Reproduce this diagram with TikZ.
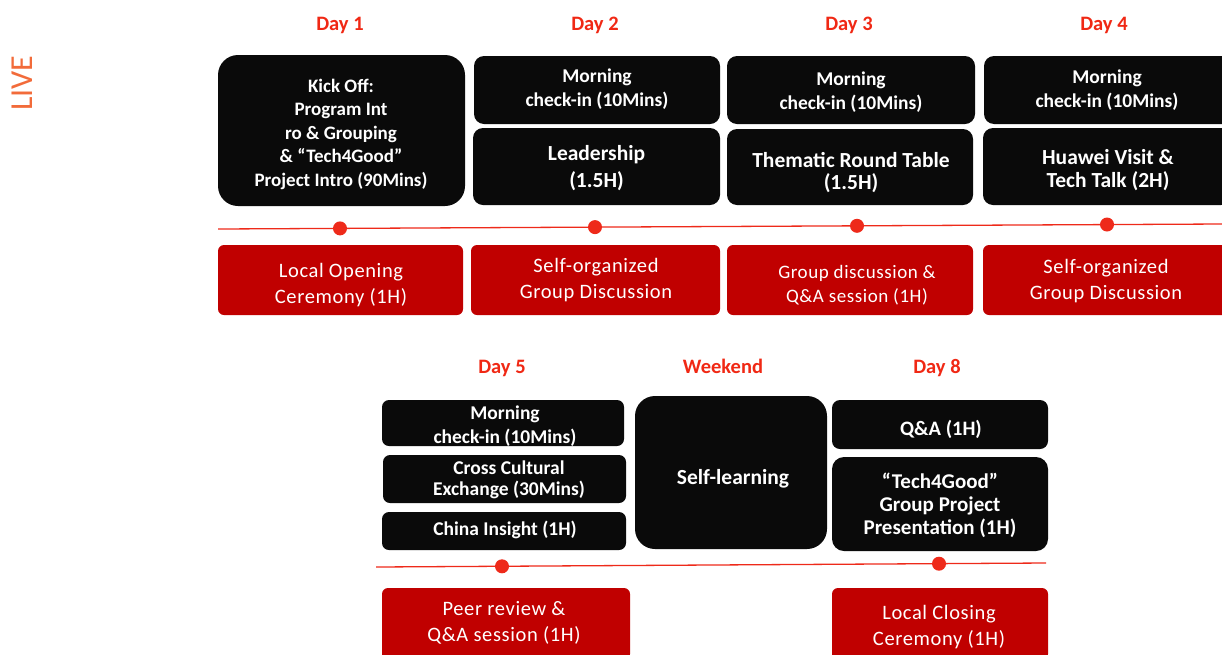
\documentclass[tikz,border=0pt]{standalone}
\usepackage{fontspec}
\setmainfont{Carlito}
\newfontfamily\spacedfont[LetterSpace=3]{Carlito}
\definecolor{boxblack}{HTML}{0A0A0A}
\definecolor{boxred}{HTML}{C00000}
\definecolor{dayred}{HTML}{F02814}
\definecolor{linered}{HTML}{EE2A1A}
\definecolor{liveorange}{HTML}{F26B3A}
\begin{document}
\begin{tikzpicture}[x=1pt,y=-1pt,
  blk/.style={fill=boxblack, rounded corners=10pt, inner sep=0pt},
  bigblk/.style={blk, rounded corners=20pt},
  redbox/.style={fill=boxred, rounded corners=6pt, inner sep=0pt},
  wtxt/.style={text=white, align=center, inner sep=0pt, font=\bfseries\fontsize{19.5}{24}\selectfont},
  rtxt/.style={text=white, align=center, inner sep=0pt, font=\spacedfont\fontsize{20.5}{26}\selectfont},
  daylbl/.style={text=dayred, anchor=base, inner sep=0pt, font=\bfseries\fontsize{20.5}{22}\selectfont},
  tline/.style={draw=linered, line width=1.3pt},
  tdot/.style={circle, fill=linered, minimum size=14pt, inner sep=0pt}]
\useasboundingbox (0,0) rectangle (1222,654);
\clip (0,0) rectangle (1222,654);

% LIVE
\node[text=liveorange, rotate=90, font=\fontsize{32}{32}\selectfont] (live) at (22,83) {LIVE};

% Day labels
\node[daylbl] (day1) at (340,30) {Day 1};
\node[daylbl] (day2) at (595,30) {Day 2};
\node[daylbl] (day3) at (849,30) {Day 3};
\node[daylbl] (day4) at (1104,30) {Day 4};
\node[daylbl] (day5) at (502,373) {Day 5};
\node[daylbl] (wkd) at (723,373) {Weekend};
\node[daylbl] (day8) at (937,373) {Day 8};

% Row 1 black boxes
\node[bigblk, minimum width=247pt, minimum height=151pt] (kick) at (341.5,130.5) {};
\node[blk, minimum width=246pt, minimum height=68pt] (d2m) at (597,90) {};
\node[blk, minimum width=247pt, minimum height=77pt] (d2l) at (596.5,166.5) {};
\node[blk, minimum width=248pt, minimum height=68pt] (d3m) at (851,90) {};
\node[blk, minimum width=246pt, minimum height=76pt] (d3t) at (850,167) {};
\node[blk, minimum width=248pt, minimum height=68pt] (d4m) at (1108,90) {};
\node[blk, minimum width=248pt, minimum height=77pt] (d4h) at (1107,166.5) {};

\node[wtxt, font=\bfseries\fontsize{19}{23.5}\selectfont] (kickT) at (341,134)
  {Kick Off:\\Program Int\\ro \& Grouping\\\& “Tech4Good”\\Project Intro (90Mins)};
\node[wtxt] (d2mT) at (597,89) {Morning\\check-in (10Mins)};
\node[wtxt, font=\bfseries\fontsize{21.5}{27}\selectfont] (d2lT) at (596.5,168.5) {Leadership\\(1.5H)};
\node[wtxt] (d3mT) at (851,92) {Morning\\check-in (10Mins)};
\node[wtxt, font=\bfseries\fontsize{21.5}{22}\selectfont] (d3tT) at (851,173) {Thematic Round Table\\(1.5H)};
\node[wtxt] (d4mT) at (1107,90.5) {Morning\\check-in (10Mins)};
\node[wtxt, font=\bfseries\fontsize{21.5}{23}\selectfont] (d4hT) at (1108,170.5) {Huawei Visit \&\\Tech Talk (2H)};

% Row 1 timeline
\coordinate (t1a) at (218,229);
\coordinate (t1b) at (1222,224);
\draw[tline] (t1a) -- (t1b);
\node[tdot] (dot1) at (340,228.4) {};
\node[tdot] (dot2) at (595,227.1) {};
\node[tdot] (dot3) at (857,225.8) {};
\node[tdot] (dot4) at (1107,224.5) {};

% Row 1 red boxes
\node[redbox, minimum width=245pt, minimum height=70pt] (r1) at (340.5,280) {};
\node[redbox, minimum width=249pt, minimum height=70pt] (r2) at (595.5,280) {};
\node[redbox, minimum width=246pt, minimum height=70pt] (r3) at (850,280) {};
\node[redbox, minimum width=248pt, minimum height=70pt] (r4) at (1107,280) {};

\node[rtxt] (r1T) at (341,285) {Local Opening\\Ceremony (1H)};
\node[rtxt] (r2T) at (596,280) {Self-organized\\Group Discussion};
\node[rtxt, font=\spacedfont\fontsize{19}{24}\selectfont] (r3T) at (857,285) {Group discussion \&\\Q\&A session (1H)};
\node[rtxt] (r4T) at (1106,281.5) {Self-organized\\Group Discussion};

% Row 2 black boxes
\node[blk, rounded corners=7pt, minimum width=242pt, minimum height=46pt] (d5m) at (503,423) {};
\node[blk, rounded corners=7pt, minimum width=243pt, minimum height=48pt] (d5c) at (504.5,479) {};
\node[blk, rounded corners=7pt, minimum width=244pt, minimum height=38pt] (d5i) at (504,531) {};
\node[bigblk, minimum width=192pt, minimum height=153pt] (wk) at (731,472.5) {};
\node[blk, rounded corners=8pt, minimum width=216pt, minimum height=49pt] (d8q) at (940,424.5) {};
\node[blk, rounded corners=12pt, minimum width=216pt, minimum height=94pt] (d8t) at (940,504) {};

\node[wtxt] (d5mT) at (505,426) {Morning\\check-in (10Mins)};
\node[wtxt, font=\bfseries\fontsize{19.5}{21}\selectfont] (d5cT) at (509,479.5) {Cross Cultural\\Exchange (30Mins)};
\node[wtxt] (d5iT) at (505,530) {China Insight (1H)};
\node[wtxt, font=\bfseries\fontsize{21.5}{22}\selectfont] (wkT) at (733,479) {Self-learning};
\node[wtxt, font=\bfseries\fontsize{20.5}{22}\selectfont] (d8qT) at (941,429) {Q\&A (1H)};
\node[wtxt, font=\bfseries\fontsize{21}{23}\selectfont] (d8tT) at (940,505) {“Tech4Good”\\Group Project\\Presentation (1H)};

% Row 2 timeline
\coordinate (t2a) at (376,567);
\coordinate (t2b) at (1046,563);
\draw[tline] (t2a) -- (t2b);
\node[tdot] (dot5) at (502,566.3) {};
\node[tdot] (dot8) at (939,563.7) {};

% Row 2 red boxes
\node[redbox, minimum width=248pt, minimum height=72pt] (r5) at (506,624) {};
\node[redbox, minimum width=216pt, minimum height=72pt] (r8) at (940,624) {};
\node[rtxt] (r5T) at (504,623) {Peer review \&\\Q\&A session (1H)};
\node[rtxt] (r8T) at (939,627) {Local Closing\\Ceremony (1H)};
\end{tikzpicture}
\end{document}
